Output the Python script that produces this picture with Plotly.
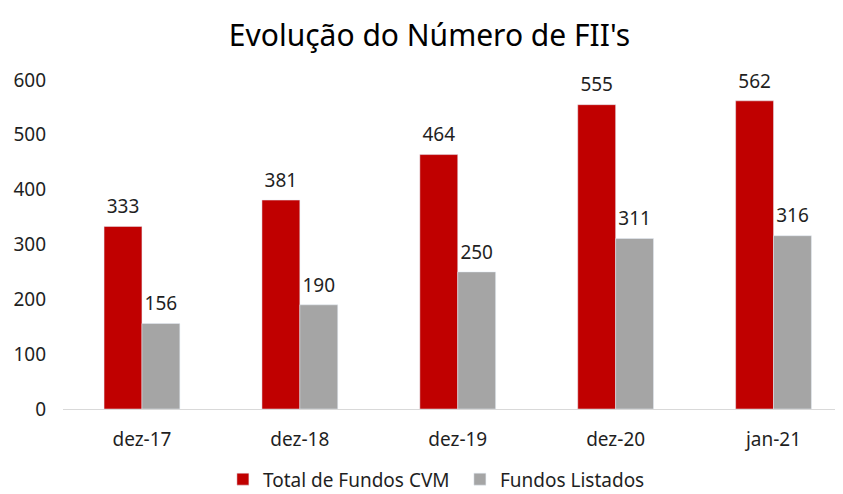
import plotly.graph_objects as go

categories = ["dez-17", "dez-18", "dez-19", "dez-20", "jan-21"]
total_cvm = [333, 381, 464, 555, 562]
listados = [156, 190, 250, 311, 316]

font = "Noto Sans, Open Sans, sans-serif"
txt = "#1f1f1f"
fig = go.Figure()
fig.add_trace(go.Bar(x=categories, y=total_cvm, name="Total de Fundos CVM",
                     marker=dict(color="#C00000"), offsetgroup="a"))
fig.add_trace(go.Bar(x=categories, y=listados, name="Fundos Listados",
                     marker=dict(color="#A5A5A5"), offsetgroup="b"))
for vals, grp in ((total_cvm, "a"), (listados, "b")):
    fig.add_trace(go.Scatter(x=categories, y=vals, mode="markers+text",
                             text=[str(v) for v in vals], textposition="top center",
                             marker=dict(size=12, color="rgba(0,0,0,0)"),
                             offsetgroup=grp, showlegend=False, hoverinfo="skip",
                             cliponaxis=False,
                             textfont=dict(size=19, color=txt, family=font)))
fig.update_layout(
    width=843, height=494,
    margin=dict(l=55, r=8, t=72, b=93),
    paper_bgcolor="white", plot_bgcolor="white",
    title=dict(text="Evolução do Número de FII's", x=0.5, xanchor="center",
               y=0.945, yanchor="middle",
               font=dict(size=30, color="#000000", family=font)),
    barmode="group", bargap=0.52, bargroupgap=0,
    scattermode="group", scattergap=0.52,
    font=dict(family=font, size=19, color=txt),
    xaxis=dict(showline=True, linecolor="#D9D9D9", linewidth=1, ticks="",
               range=[-0.5, 4.44], automargin=False,
               tickfont=dict(size=19, color=txt), ticklabelstandoff=13),
    yaxis=dict(range=[0, 600], dtick=100, showgrid=False, zeroline=False,
               showline=False, automargin=False,
               tickfont=dict(size=19, color=txt),
               ticklabelstandoff=16),
    legend=dict(orientation="h", x=0.205, xanchor="left",
                yref="container", y=0.046, yanchor="middle",
                font=dict(size=19, color=txt), itemwidth=30,
                entrywidth=192, entrywidthmode="pixels"),
    showlegend=True,
)
fig.write_html("out.html")
